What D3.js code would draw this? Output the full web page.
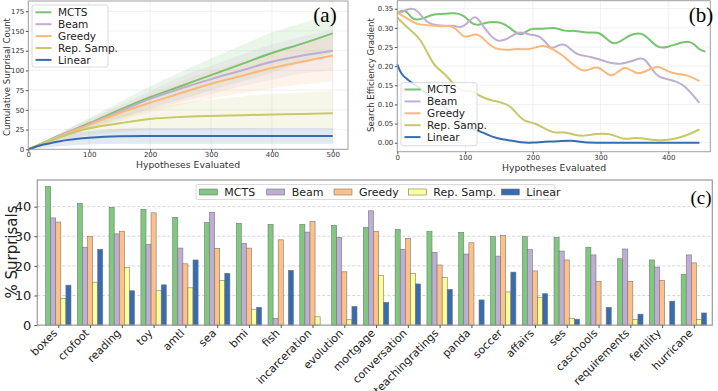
<!DOCTYPE html>
<html>
<head>
<meta charset="utf-8">
<script src="https://cdn.jsdelivr.net/npm/d3@7"></script>
<style>
  body { margin: 0; background: white; }
  text { font-family: "DejaVu Sans", sans-serif; }
  text.serif { font-family: "Liberation Serif", "DejaVu Serif", serif; }
</style>
</head>
<body>
<div id="vis"></div>
<script>
// data
let methods = ['MCTS', 'Beam', 'Greedy', 'Rep. Samp.', 'Linear'];
let barColors = ['#7fc97f', '#beaed4', '#fdc086', '#ffff99', '#386cb0'];
let lineColors = ['#77c46f', '#beaed4', '#fdb87a', '#c7c76c', '#386cb0'];

// panel (a): cumulative surprisal count, mean and band
let cumX = [0, 25, 50, 100, 150, 200, 250, 300, 350, 400, 450, 500];
let cumMean = [
  [0, 8, 17, 33, 50, 66, 80, 94, 108, 122, 134, 147],
  [0, 8, 17, 32, 48, 64, 77, 89, 100, 111, 119, 125],
  [0, 8, 16, 31, 46, 59, 71, 83, 93, 103, 111, 119],
  [0, 8, 15, 26.6, 33, 38.5, 41, 42.3, 43.2, 44.2, 44.8, 45.6],
  [0, 6, 10, 14.5, 16.5, 16.8, 16.9, 16.9, 16.9, 16.9, 16.9, 16.9]
];
let cumUpper = [
  [0, 10, 20, 40, 60, 80, 98, 115, 132, 148, 160, 172],
  [0, 10, 20, 38, 56, 74, 92, 106, 120, 133, 143, 151],
  [0, 10, 19, 37, 54, 70, 86, 100, 112, 124, 135, 145],
  [0, 10, 18, 33, 44, 52, 58, 63, 67, 70, 72, 74],
  [0, 10, 17, 23, 26, 27, 27, 27, 27, 27, 27, 27]
];
let cumLower = [
  [0, 6, 15, 28, 40, 52, 63, 75, 86, 97, 110, 123],
  [0, 6, 14, 26, 38, 50, 60, 70, 80, 88, 96, 100],
  [0, 6, 13, 25, 36, 47, 56, 64, 71, 77, 82, 86],
  [0, 5, 11, 18, 22, 24, 24.5, 25, 25.5, 26, 26, 26],
  [0, 2, 4, 6, 7, 7, 7, 7, 7, 7, 7, 7]
];

// panel (b): search efficiency gradient, [hypotheses, value]
let gradMCTS = [[0,0.338],[6,0.345],[13,0.346],[21,0.325],[28,0.32],[40,0.325],[52,0.336],[70,0.336],[84,0.34],[99,0.333],[109,0.312],[118,0.305],[133,0.316],[153,0.316],[167,0.299],[182,0.277],[192,0.294],[202,0.299],[212,0.296],[232,0.303],[247,0.29],[261,0.294],[281,0.286],[296,0.29],[306,0.277],[320,0.252],[335,0.273],[350,0.286],[363,0.286],[375,0.264],[387,0.246],[399,0.25],[414,0.259],[429,0.266],[438,0.259],[446,0.242],[455,0.238]];
let gradBeam = [[0,0.338],[6,0.34],[13,0.348],[25,0.353],[35,0.333],[45,0.312],[57,0.307],[70,0.305],[84,0.307],[94,0.299],[104,0.313],[114,0.333],[121,0.32],[129,0.299],[139,0.277],[148,0.264],[158,0.268],[168,0.277],[178,0.29],[188,0.287],[198,0.281],[207,0.281],[217,0.268],[227,0.242],[237,0.255],[247,0.259],[257,0.242],[266,0.229],[286,0.225],[301,0.216],[316,0.207],[330,0.205],[345,0.212],[360,0.223],[367,0.216],[375,0.194],[385,0.171],[399,0.166],[414,0.159],[424,0.148],[434,0.129],[446,0.104]];
let gradGreedy = [[0,0.34],[11,0.329],[21,0.316],[35,0.307],[50,0.307],[65,0.303],[80,0.307],[89,0.294],[99,0.273],[109,0.281],[119,0.285],[129,0.268],[139,0.251],[148,0.244],[163,0.242],[178,0.246],[193,0.242],[207,0.251],[217,0.255],[232,0.242],[247,0.225],[262,0.199],[276,0.185],[286,0.194],[296,0.199],[306,0.185],[316,0.172],[326,0.185],[335,0.199],[345,0.19],[355,0.177],[370,0.19],[385,0.203],[399,0.185],[414,0.179],[429,0.177],[446,0.161]];
let gradRep = [[0,0.327],[11,0.307],[25,0.286],[35,0.268],[45,0.233],[55,0.199],[70,0.181],[80,0.159],[89,0.142],[99,0.133],[109,0.138],[119,0.125],[129,0.116],[139,0.111],[158,0.103],[168,0.094],[178,0.072],[188,0.055],[203,0.052],[217,0.037],[232,0.024],[247,0.029],[262,0.02],[276,0.017],[291,0.023],[306,0.024],[320,0.02],[335,0.007],[350,0.014],[370,0.009],[390,0.005],[409,0.009],[429,0.02],[446,0.035]];
let gradLinear = [[0,0.205],[6,0.177],[16,0.164],[26,0.151],[40,0.133],[55,0.111],[70,0.094],[85,0.068],[94,0.05],[104,0.037],[119,0.033],[134,0.02],[148,0.011],[163,0.007],[183,0],[202,0],[217,0.003],[237,0.003],[256,0.007],[276,0],[300,0],[350,0],[400,0],[446,0]];
let gradSeries = [gradMCTS, gradBeam, gradGreedy, gradRep, gradLinear];

// panel (c): % surprisals per dataset
let datasets = ['boxes', 'crofoot', 'reading', 'toy', 'amtl', 'sea', 'bmi', 'fish', 'incarceration',
  'evolution', 'mortgage', 'conversation', 'teachingratings', 'panda', 'soccer', 'affairs', 'ses',
  'caschools', 'requirements', 'fertility', 'hurricane'];
let pctMCTS   = [46.8, 41.1, 39.8, 39.1, 36.4, 34.6, 34.4, 34.0, 34.0, 33.7, 33.0, 32.3, 31.7, 31.3, 29.9, 29.9, 29.6, 26.3, 22.4, 22.0, 17.1];
let pctBeam   = [36.2, 26.3, 30.8, 27.3, 26.0, 38.1, 27.6, 2.3, 31.4, 29.6, 38.6, 25.6, 24.6, 24.0, 23.3, 25.5, 25.0, 23.7, 25.7, 19.6, 23.7];
let pctGreedy = [34.8, 30.0, 31.7, 37.9, 20.7, 25.9, 26.0, 28.8, 35.0, 18.0, 31.7, 29.3, 20.3, 27.8, 30.3, 18.3, 22.0, 14.8, 14.8, 15.1, 21.0];
let pctRep    = [9.0, 14.5, 19.4, 11.6, 12.6, 15.0, 5.2, 0, 2.8, 1.8, 16.7, 17.5, 16.1, 0, 11.2, 9.4, 2.3, 0, 1.9, 0, 1.9];
let pctLinear = [13.5, 25.6, 11.6, 13.6, 22.0, 17.5, 6.0, 18.5, 0, 6.3, 7.7, 13.9, 12.1, 8.5, 17.9, 10.6, 2.0, 6.0, 3.7, 8.1, 4.1];
let pctSeries = [pctMCTS, pctBeam, pctGreedy, pctRep, pctLinear];

let svg = d3.select('#vis').append('svg')
  .attr('width', 718).attr('height', 391)
  .style('display', 'block');

function smallTicks(g) {
  g.select('.domain').remove();
  g.selectAll('line').attr('stroke', '#555');
  g.selectAll('text').attr('font-size', 7).attr('fill', '#333');
}

// ---------- panel (a)
let ax = d3.scaleLinear().domain([0, 525]).range([28.3, 348]);
let ay = d3.scaleLinear().domain([0, 188]).range([149.3, 1]);
let ga = svg.append('g');

ga.append('g').selectAll('line').data(ax.ticks(5)).join('line')
  .attr('x1', d => ax(d)).attr('x2', d => ax(d)).attr('y1', 1).attr('y2', 149.3)
  .attr('stroke', '#eeeeee').attr('stroke-width', 0.8);
ga.append('g').selectAll('line').data(d3.range(0, 176, 25)).join('line')
  .attr('x1', 28.3).attr('x2', 348).attr('y1', d => ay(d)).attr('y2', d => ay(d))
  .attr('stroke', '#eeeeee').attr('stroke-width', 0.8);

let areaA = d3.area().curve(d3.curveMonotoneX)
  .x((d, i) => ax(cumX[i])).y0(d => ay(d[0])).y1(d => ay(d[1]));
let lineA = d3.line().curve(d3.curveMonotoneX)
  .x((d, i) => ax(cumX[i])).y(d => ay(d));

methods.forEach((m, k) => {
  let band = cumLower[k].map((v, i) => [v, cumUpper[k][i]]);
  ga.append('path').attr('d', areaA(band))
    .attr('fill', lineColors[k]).attr('fill-opacity', 0.15);
});
methods.forEach((m, k) => {
  ga.append('path').attr('d', lineA(cumMean[k]))
    .attr('fill', 'none').attr('stroke', lineColors[k]).attr('stroke-width', 2);
});

ga.append('rect').attr('x', 28.3).attr('y', 1).attr('width', 348 - 28.3).attr('height', 148.3)
  .attr('fill', 'none').attr('stroke', '#a0a0a0').attr('stroke-width', 1);

ga.append('g').attr('transform', 'translate(0,149.3)')
  .call(d3.axisBottom(ax).tickValues([0, 100, 200, 300, 400, 500]).tickSize(2.5).tickPadding(0.5))
  .call(smallTicks);
ga.append('g').attr('transform', 'translate(28.3,0)')
  .call(d3.axisLeft(ay).tickValues(d3.range(0, 176, 25)).tickSize(2.5).tickPadding(1.5))
  .call(smallTicks);

ga.append('text').attr('x', 188).attr('y', 168).attr('text-anchor', 'middle')
  .attr('font-size', 9.3).attr('fill', '#333').text('Hypotheses Evaluated');
ga.append('text').attr('transform', 'translate(9.5,77) rotate(-90)').attr('text-anchor', 'middle')
  .attr('font-size', 8.6).attr('fill', '#333').text('Cumulative Surprisal Count');
ga.append('text').attr('class', 'serif').attr('x', 325).attr('y', 22).attr('text-anchor', 'middle')
  .attr('font-size', 21).text('(a)');

function lineLegend(g, x0, y0, w, h, rowY) {
  g.append('rect').attr('x', x0).attr('y', y0).attr('width', w).attr('height', h)
    .attr('rx', 2).attr('fill', 'white').attr('fill-opacity', 0.85)
    .attr('stroke', '#d0d0d0').attr('stroke-width', 0.8);
  methods.forEach((m, k) => {
    let y = rowY(k);
    g.append('line').attr('x1', x0 + 3.5).attr('x2', x0 + 19.5).attr('y1', y).attr('y2', y)
      .attr('stroke', lineColors[k]).attr('stroke-width', 2);
    g.append('text').attr('x', x0 + 26).attr('y', y).attr('dy', '0.35em')
      .attr('font-size', 10.5).attr('fill', '#222').text(m);
  });
}
lineLegend(ga, 32, 5, 76, 62, k => 12.3 + k * 11.9);

// ---------- panel (b)
let bx = d3.scaleLinear().domain([0, 462]).range([397.3, 710.3]);
let by = d3.scaleLinear().domain([-0.0235, 0.371]).range([151.7, 0.7]);
let gb = svg.append('g');

gb.append('g').selectAll('line').data([0, 100, 200, 300, 400]).join('line')
  .attr('x1', d => bx(d)).attr('x2', d => bx(d)).attr('y1', 0.7).attr('y2', 151.7)
  .attr('stroke', '#eeeeee').attr('stroke-width', 0.8);
gb.append('g').selectAll('line').data(d3.range(0, 0.36, 0.05)).join('line')
  .attr('x1', 397.3).attr('x2', 710.3).attr('y1', d => by(d)).attr('y2', d => by(d))
  .attr('stroke', '#eeeeee').attr('stroke-width', 0.8);

let lineB = d3.line().curve(d3.curveBasis).x(d => bx(d[0])).y(d => by(d[1]));
gradSeries.forEach((s, k) => {
  gb.append('path').attr('d', lineB(s))
    .attr('fill', 'none').attr('stroke', lineColors[k]).attr('stroke-width', 2);
});

gb.append('rect').attr('x', 397.3).attr('y', 0.7).attr('width', 313).attr('height', 151)
  .attr('fill', 'none').attr('stroke', '#a0a0a0').attr('stroke-width', 1);

gb.append('g').attr('transform', 'translate(0,151.7)')
  .call(d3.axisBottom(bx).tickValues([0, 100, 200, 300, 400]).tickSize(2.5).tickPadding(0.5))
  .call(smallTicks);
gb.append('g').attr('transform', 'translate(397.3,0)')
  .call(d3.axisLeft(by).tickValues(d3.range(0, 0.36, 0.05)).tickFormat(d3.format('.2f')).tickSize(2.5).tickPadding(1.5))
  .call(smallTicks);

gb.append('text').attr('x', 554).attr('y', 170.5).attr('text-anchor', 'middle')
  .attr('font-size', 9.3).attr('fill', '#333').text('Hypotheses Evaluated');
gb.append('text').attr('transform', 'translate(374,75) rotate(-90)').attr('text-anchor', 'middle')
  .attr('font-size', 8.6).attr('fill', '#333').text('Search Efficiency Gradient');
gb.append('text').attr('class', 'serif').attr('x', 701).attr('y', 22).attr('text-anchor', 'middle')
  .attr('font-size', 21).text('(b)');

lineLegend(gb, 401, 82.7, 76, 63, k => 89.5 + k * 11.9);

// ---------- panel (c)
let cx = d3.scaleLinear().domain([-0.66, 20.58]).range([37.3, 712.3]);
let cy = d3.scaleLinear().domain([0, 49]).range([325.1, 180]);
let gc = svg.append('g');

gc.append('g').selectAll('line').data([10, 20, 30, 40]).join('line')
  .attr('x1', 37.3).attr('x2', 712.3).attr('y1', d => cy(d)).attr('y2', d => cy(d))
  .attr('stroke', '#cccccc').attr('stroke-width', 0.8).attr('stroke-dasharray', '3,2');

let barW = 0.16;
pctSeries.forEach((vals, k) => {
  gc.append('g').selectAll('rect').data(vals).join('rect')
    .attr('x', (d, i) => cx(i + (k - 2.5) * barW))
    .attr('width', cx(barW) - cx(0))
    .attr('y', d => cy(d))
    .attr('height', d => cy(0) - cy(d))
    .attr('fill', barColors[k])
    .attr('stroke', '#777').attr('stroke-width', 0.6);
});

gc.append('rect').attr('x', 37.3).attr('y', 180).attr('width', 675).attr('height', 145.1)
  .attr('fill', 'none').attr('stroke', '#999').attr('stroke-width', 1.2);

// ticks from the axis, names rotated 45 degrees and ending under each tick
gc.append('g').attr('transform', 'translate(0,325.1)')
  .call(d3.axisBottom(cx).tickValues(d3.range(datasets.length)).tickFormat('').tickSize(3))
  .call(g => g.select('.domain').remove())
  .call(g => g.selectAll('line').attr('stroke', '#555'));
gc.append('g').selectAll('text').data(datasets).join('text')
  .attr('transform', (d, i) => 'translate(' + (cx(i) - 3) + ',331) rotate(-45)')
  .attr('text-anchor', 'end').attr('dy', '0.35em')
  .attr('font-size', 11).attr('fill', '#222')
  .text(d => d);

gc.append('g').attr('transform', 'translate(37.3,0)')
  .call(d3.axisLeft(cy).tickValues([0, 10, 20, 30, 40]).tickSize(3).tickPadding(3))
  .call(g => g.select('.domain').remove())
  .call(g => g.selectAll('line').attr('stroke', '#555'))
  .call(g => g.selectAll('text').attr('font-size', 13).attr('fill', '#222'));

gc.append('text').attr('transform', 'translate(17,252) rotate(-90)').attr('text-anchor', 'middle')
  .attr('font-size', 15).attr('fill', '#222').text('% Surprisals');
gc.append('text').attr('class', 'serif').attr('x', 701).attr('y', 204).attr('text-anchor', 'middle')
  .attr('font-size', 19).text('(c)');

// legend (c), one row
let legC = gc.append('g');
legC.append('rect').attr('x', 196).attr('y', 184.5).attr('width', 359).attr('height', 15)
  .attr('rx', 2).attr('fill', 'white').attr('stroke', '#d0d0d0').attr('stroke-width', 0.8);
let legX = [199.3, 266.7, 334, 408.3, 501.3];
methods.forEach((m, k) => {
  legC.append('rect').attr('x', legX[k]).attr('y', 189).attr('width', 18).attr('height', 6)
    .attr('fill', barColors[k]).attr('stroke', '#777').attr('stroke-width', 0.6);
  legC.append('text').attr('x', legX[k] + 25).attr('y', 192).attr('dy', '0.35em')
    .attr('font-size', 11).attr('fill', '#222').text(m);
});
</script>
</body>
</html>
